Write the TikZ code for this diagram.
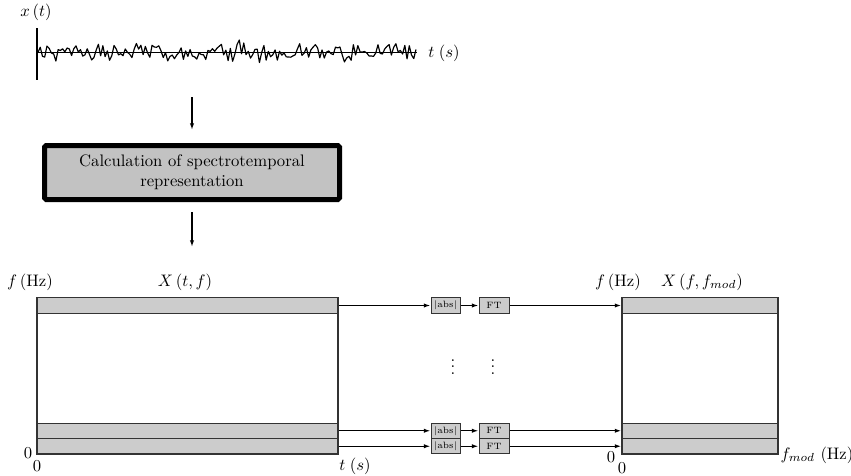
\documentclass[tikz,border=0pt]{standalone}
\usetikzlibrary{arrows.meta}
\definecolor{stripgray}{HTML}{CCCCCC}
\definecolor{boxgray}{HTML}{C2C2C2}
\definecolor{edgegray}{HTML}{333333}
\tikzset{
  strip/.style={draw=edgegray, fill=stripgray, line width=0.7pt, inner sep=0pt, minimum height=9.2pt},
  op/.style={draw=edgegray, fill=stripgray, line width=0.6pt, inner sep=0pt, minimum height=9.2pt, font=\fontsize{5.5}{6}\selectfont},
  >={Latex[length=4pt,width=2.6pt]}
}
\begin{document}
\begin{tikzpicture}[x=0.6pt,y=-0.6pt]
\useasboundingbox (0,0) rectangle (851,475);

% signal
\draw[line width=0.8pt] (37,28) -- (37,80);
\draw[line width=0.6pt] (37,52) -- (417,52);
\pgfmathsetseed{12}
\draw[line width=0.7pt, line join=round] plot[domain=38:416, samples=170] (\x,{52-7*rand-14*rand*rand*rand});
\node (xt) at (36,12) {$x\,(t)$};
\node (ts) at (444,53) {$t\;(s)$};
\coordinate (sig) at (192,97);

\node[draw=black, line width=3pt, fill=boxgray, rounded corners=1pt, minimum width=177pt, minimum height=32.4pt, align=center, inner sep=0pt] (calc) at (192,172.5) {Calculation of spectrotemporal\\representation};
\coordinate (spec) at (192,247);

\draw[->, line width=0.8pt] (sig) -- ([yshift=7.8pt]calc.north);
\draw[->, line width=0.8pt] ([yshift=-6pt]calc.south) -- (spec);

% spectrogram and modulation spectrum
\draw[edgegray, line width=0.7pt] (37,298) rectangle (338,454);
\draw[edgegray, line width=0.7pt] (622,298) rectangle (778,454);

\node[strip, minimum width=180.6pt] (L1) at (187.5,305.5) {};
\node[strip, minimum width=180.6pt] (L2) at (187.5,430.75) {};
\node[strip, minimum width=180.6pt] (L3) at (187.5,446.25) {};
\node[strip, minimum width=93.6pt] (R1) at (700,305.5) {};
\node[strip, minimum width=93.6pt] (R2) at (700,430.75) {};
\node[strip, minimum width=93.6pt] (R3) at (700,446.25) {};

\node[op, minimum width=17.4pt] (A1) at (445.5,305.5) {|abs|};
\node[op, minimum width=17.4pt] (A2) at (445.5,430.75) {|abs|};
\node[op, minimum width=17.4pt] (A3) at (445.5,446.25) {|abs|};
\node[op, minimum width=18pt] (F1) at (494,305.5) {FT};
\node[op, minimum width=18pt] (F2) at (494,430.75) {FT};
\node[op, minimum width=18pt] (F3) at (494,446.25) {FT};

\node[inner sep=0pt] (d1) at (453,362) {$\vdots$};
\node[inner sep=0pt] (d2) at (493,362) {$\vdots$};

\path[every edge/.style={draw, ->, line width=0.8pt}]
    (L1) edge (A1) (A1) edge (F1) (F1) edge (R1)
    (L2) edge (A2) (A2) edge (F2) (F2) edge (R2)
    (L3) edge (A3) (A3) edge (F3) (F3) edge (R3);

% axis labels
\node (lf) at (30,282) {$f\,$(Hz)};
\node (lX) at (185,282) {$X\,(t, f)$};
\node (rf) at (618,282) {$f\,$(Hz)};
\node (rX) at (702,282) {$X\,(f, f_{mod})$};
\node (l0a) at (28,453) {0};
\node (l0b) at (37,466) {0};
\node (lt) at (355,466) {$t\;(s)$};
\node (r0a) at (611,457) {0};
\node (r0b) at (622,468) {0};
\node (rfm) at (817,455) {$f_{mod}$ (Hz)};
\end{tikzpicture}
\end{document}
